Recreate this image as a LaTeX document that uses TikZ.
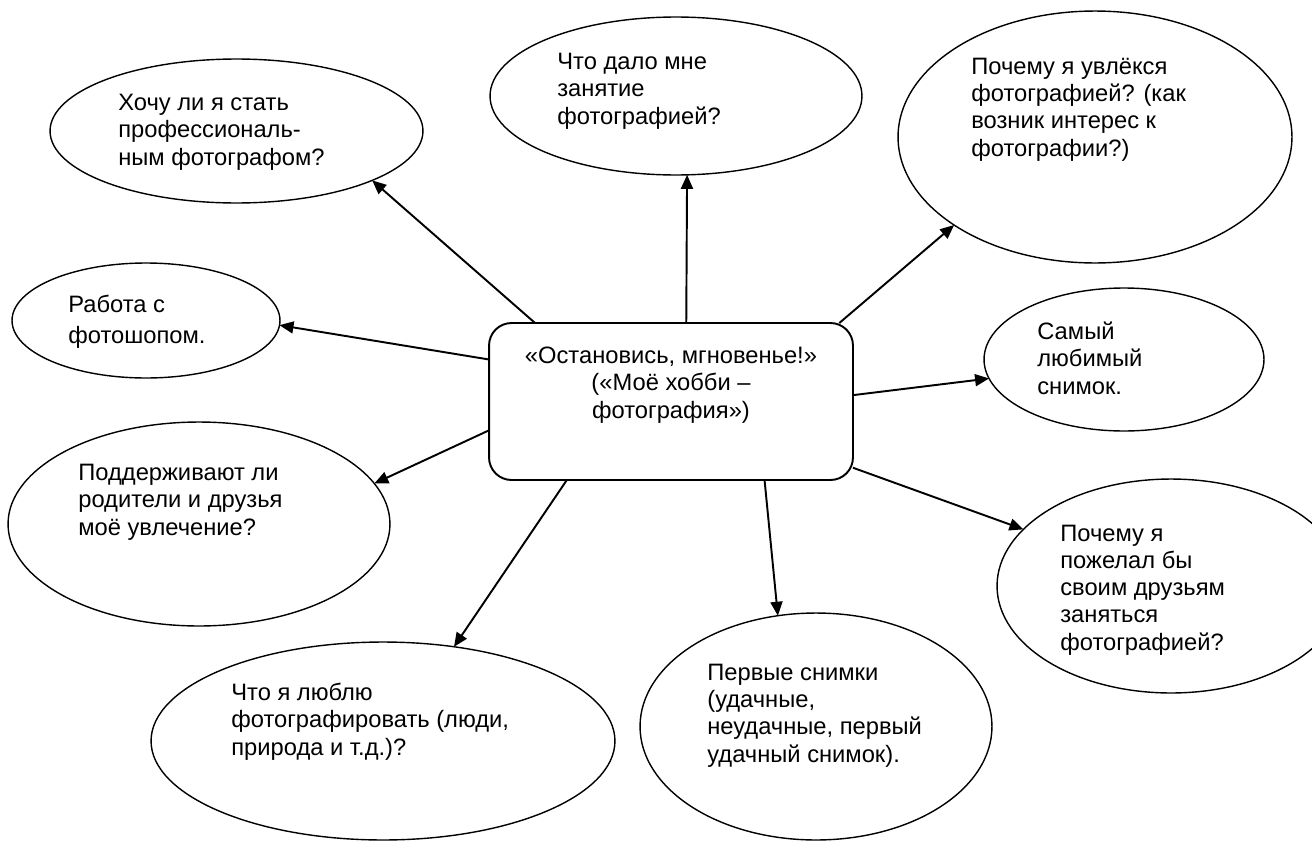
\documentclass[tikz,border=0pt]{standalone}
\usepackage{fontspec}
\setmainfont{Liberation Sans}
\usetikzlibrary{arrows.meta,shapes.geometric}

\begin{document}
\begin{tikzpicture}[x=0.02cm, y=-0.02cm,
    bubble/.style={draw, ellipse, line width=0.8pt, inner sep=0pt, outer sep=0pt},
    txt/.style={anchor=base west, align=left, inner sep=0pt, font=\fontsize{13.5}{15.4}\selectfont},
    arr/.style={line width=1.1pt, -{Triangle[length=0.28cm,width=0.24cm]}}]
    \useasboundingbox (0,0) rectangle (1312,842);

    % central topic
    \node[draw, rounded corners=0.45cm, line width=1.1pt, inner sep=0pt, outer sep=0pt, minimum width=7.28cm, minimum height=3.14cm] (hub) at (671,401.5) {};
    \node[anchor=base, align=center, inner sep=0pt, font=\fontsize{13.5}{15.6}\selectfont] (hubtext) at (671,418) {«Остановись, мгновенье!»\\(«Моё хобби –\\фотография»)};

    % professional
    \node[bubble, minimum width=7.46cm, minimum height=2.88cm] (e1) at (236.5,131) {};
    \node[txt] (t1) at (118,165) {Хочу ли я стать\\профессиональ-\\ным фотографом?};

    % what it gave
    \node[bubble, minimum width=7.44cm, minimum height=3.16cm] (e2) at (676,96) {};
    \node[txt] (t2) at (557,124) {Что дало мне\\занятие\\фотографией?};

    % how it started
    \node[bubble, minimum width=7.88cm, minimum height=5.04cm] (e3) at (1095,137) {};
    \node[txt] (t3) at (971,156) {Почему я увлёкся\\фотографией? (как\\возник интерес к\\фотографии?)};

    % photoshop
    \node[bubble, minimum width=5.36cm, minimum height=2.30cm] (e4) at (146,320.5) {};
    \node[txt] (t4) at (68,343) {Работа с\\[2.2pt]фотошопом.};

    % favourite shot
    \node[bubble, minimum width=5.60cm, minimum height=2.86cm] (e5) at (1124,359.5) {};
    \node[txt] (t5) at (1037,394) {Самый\\любимый\\снимок.};

    % parents and friends
    \node[bubble, minimum width=7.64cm, minimum height=4.08cm] (e6) at (199,524) {};
    \node[txt] (t6) at (78,535) {Поддерживают ли\\родители и друзья\\моё увлечение?};

    % advice to friends
    \node[bubble, minimum width=6.96cm, minimum height=4.28cm] (e7) at (1171,586) {};
    \node[txt] (t7) at (1060,650) {Почему я\\пожелал бы\\своим друзьям\\заняться\\фотографией?};

    % first shots
    \node[bubble, minimum width=7.04cm, minimum height=4.54cm] (e8) at (816,726.5) {};
    \node[txt] (t8) at (707,762) {Первые снимки\\(удачные,\\неудачные, первый\\удачный снимок).};

    % subjects
    \node[bubble, minimum width=9.28cm, minimum height=3.96cm] (e9) at (383,741) {};
    \node[txt] (t9) at (231,755) {Что я люблю\\фотографировать (люди,\\природа и т.д.)?};

    % arrows
    \draw[arr] (hub.150) -- (e1.-20);
    \draw[arr] (hub.79) -- (e2.-82);
    \draw[arr] (hub.25) -- (e3.-148);
    \draw[arr] (hub.167) -- (e4.-2);
    \draw[arr] (hub.2) -- (e5.188);
    \draw[arr] (hub.189) -- (e6.13);
    \draw[arr] (hub.-20) -- (e7.159);
    \draw[arr] (hub.-40) -- (e8.109);
    \draw[arr] (hub.-143) -- (e9.53);
\end{tikzpicture}
\end{document}
